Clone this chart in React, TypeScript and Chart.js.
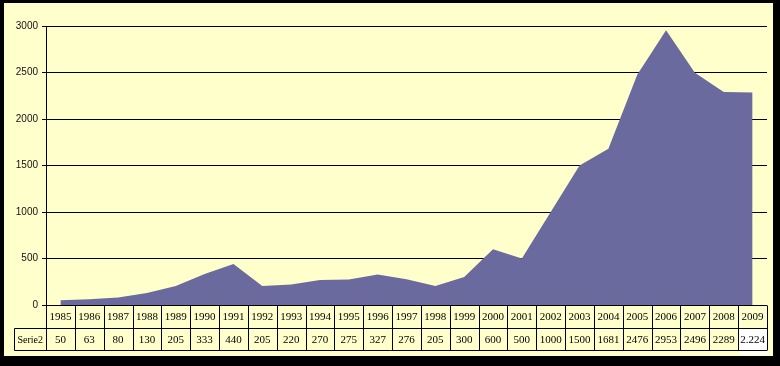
import React, { useEffect, useRef } from "react";
import { Chart, registerables } from "chart.js";

Chart.register(...registerables);

const years = ["1985","1986","1987","1988","1989","1990","1991","1992","1993","1994","1995","1996","1997","1998","1999","2000","2001","2002","2003","2004","2005","2006","2007","2008","2009"];
const serie2 = [50,63,80,130,205,333,440,205,220,270,275,327,276,205,300,600,500,1000,1500,1681,2476,2953,2496,2289,2284];
const valueLabels = ["50","63","80","130","205","333","440","205","220","270","275","327","276","205","300","600","500","1000","1500","1681","2476","2953","2496","2289","2.224"];
const seriesName = "Serie2";
const yTicks = [0, 500, 1000, 1500, 2000, 2500, 3000];

const BG = "#FFFFCC";
const FILL = "#6A6A9E";

const framePlugin = {
  id: "frame",
  beforeDraw(chart: any) {
    const ctx = chart.ctx;
    ctx.save();
    ctx.fillStyle = "#000";
    ctx.fillRect(0, 0, chart.width, chart.height);
    ctx.fillStyle = BG;
    ctx.fillRect(4, 3, 769, 353);
    ctx.restore();
  },
};

const tablePlugin = {
  id: "dataTable",
  afterDraw(chart: any) {
    const ctx = chart.ctx;
    const area = chart.chartArea;
    const xs = chart.scales.x;
    const n = years.length;
    const w = (area.right - area.left) / n;
    const top = Math.round(area.bottom) + 0.5;
    const mid = 328.5;
    const bot = 350.5;
    const leftHead = 14.5;
    ctx.save();
    const lastCenter = xs.getPixelForValue(n - 1);
    ctx.fillStyle = "#FFFFFF";
    ctx.fillRect(lastCenter - w / 2 + 1, mid + 1, w - 1, bot - mid + 3);
    ctx.strokeStyle = "#000";
    ctx.lineWidth = 1;
    ctx.beginPath();
    ctx.moveTo(area.left, top);
    ctx.lineTo(area.right, top);
    ctx.moveTo(leftHead, mid);
    ctx.lineTo(area.right, mid);
    ctx.moveTo(leftHead, bot);
    ctx.lineTo(area.right, bot);
    ctx.moveTo(leftHead, mid);
    ctx.lineTo(leftHead, bot);
    for (let i = 0; i <= n; i++) {
      const x = Math.round(area.left + i * w) + 0.5;
      ctx.moveTo(x, top);
      ctx.lineTo(x, bot);
    }
    ctx.stroke();
    ctx.fillStyle = "#000";
    ctx.textAlign = "center";
    ctx.textBaseline = "middle";
    ctx.font = "11px 'Liberation Serif'";
    for (let i = 0; i < n; i++) {
      const cx = xs.getPixelForValue(i);
      ctx.fillText(years[i], cx, 317);
      ctx.fillText(valueLabels[i], cx, 340);
    }
    ctx.font = "10px 'Liberation Serif'";
    ctx.fillText(seriesName, (leftHead + area.left) / 2, 340);
    ctx.restore();
  },
};

export default function App() {
  const ref = useRef<HTMLCanvasElement>(null);
  useEffect(() => {
    if (!ref.current) return;
    const chart = new Chart(ref.current, {
      type: "line",
      data: {
        labels: years,
        datasets: [
          {
            label: seriesName,
            data: serie2,
            fill: "origin",
            backgroundColor: FILL,
            borderColor: FILL,
            borderWidth: 0,
            pointRadius: 0,
            tension: 0,
          },
        ],
      },
      options: {
        responsive: false,
        animation: false,
        layout: { padding: { left: 4, right: 13, top: 26, bottom: 61 } },
        plugins: { legend: { display: false }, tooltip: { enabled: false } },
        scales: {
          x: {
            type: "category",
            offset: true,
            display: false,
          },
          y: {
            min: 0,
            max: 3000,
            afterFit: (s: any) => { s.width = 42; },
            afterBuildTicks: (s: any) => { s.ticks = yTicks.map((v) => ({ value: v })); },
            ticks: {
              color: "#111",
              font: { family: "'Liberation Sans'", size: 10 },
              padding: 4,
              callback: (v: any) => String(v),
            },
            grid: {
              color: "#000",
              lineWidth: 1,
              drawTicks: true,
              tickLength: 4,
            },
            border: { display: true, color: "#000", width: 1 },
          },
        },
      },
      plugins: [framePlugin, tablePlugin],
    });
    return () => chart.destroy();
  }, []);
  return (
    <div style={{ position: "fixed", left: 0, top: 0, width: 780, height: 366 }}>
      <canvas ref={ref} width={780} height={366} style={{ display: "block" }} />
    </div>
  );
}
